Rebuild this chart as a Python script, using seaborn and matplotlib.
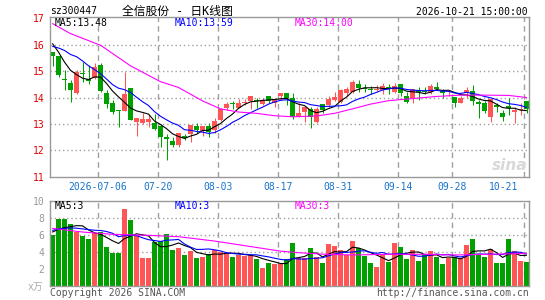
import matplotlib
matplotlib.use("Agg")
import matplotlib.pyplot as plt
import matplotlib.transforms as mtransforms
from matplotlib.lines import Line2D
import numpy as np
import pandas as pd
import seaborn as sns

# daily bars, oldest first
opens = [15.72, 15.56, 14.71, 14.55, 14.18, 14.93, 14.71, 14.74, 15.23, 14.18,
         13.78, 13.54, 13.48, 14.35, 13.07, 13.05, 13.07, 13.05, 12.91, 12.49,
         12.35, 12.20, 12.56, 12.62, 12.92, 12.74, 12.92, 12.77, 13.15, 13.59,
         13.78, 13.61, 13.80, 13.86, 13.90, 13.75, 14.05, 13.78, 14.05, 14.18,
         14.00, 13.27, 13.46, 13.55, 13.08, 13.75, 13.71, 13.90, 13.84, 14.16,
         14.19, 14.51, 14.36, 14.34, 14.28, 14.28, 14.38, 14.22, 14.51, 14.05,
         14.00, 14.28, 14.26, 14.22, 14.41, 14.26, 14.20, 14.03, 13.78, 14.16,
         14.26, 13.82, 13.78, 13.25, 13.71, 13.42, 13.67, 13.45, 13.52, 13.88]
closes = [15.57, 14.86, 14.67, 14.27, 14.97, 14.89, 14.61, 15.15, 14.25, 13.77,
          13.45, 13.50, 14.12, 13.16, 13.23, 13.17, 13.17, 12.81, 12.51, 12.44,
          12.20, 12.65, 12.45, 12.96, 12.77, 12.92, 12.70, 13.11, 13.56, 13.75,
          13.74, 13.80, 13.84, 14.05, 13.87, 13.90, 13.88, 13.92, 14.18, 13.97,
          13.25, 13.42, 13.65, 13.25, 13.55, 13.52, 13.94, 14.03, 14.28, 14.32,
          14.57, 14.36, 14.31, 14.28, 14.34, 14.43, 14.32, 14.43, 14.18, 13.84,
          14.31, 14.22, 14.19, 14.43, 14.34, 14.16, 14.26, 13.78, 14.00, 14.28,
          13.88, 13.77, 13.50, 13.93, 13.65, 13.25, 13.62, 13.52, 13.57, 13.55]
highs = [15.74, 15.56, 15.05, 14.65, 15.05, 15.34, 15.24, 15.31, 15.32, 14.27,
         13.90, 13.54, 14.98, 14.37, 13.24, 13.41, 13.39, 13.39, 13.01, 12.63,
         12.52, 12.65, 12.62, 12.96, 13.05, 12.92, 13.05, 13.21, 13.59, 13.84,
         13.88, 13.93, 13.94, 14.05, 14.00, 14.00, 14.05, 13.97, 14.18, 14.18,
         14.18, 13.78, 13.65, 13.65, 13.65, 13.75, 14.05, 14.22, 14.31, 14.41,
         14.66, 14.66, 14.51, 14.43, 14.47, 14.56, 14.51, 14.56, 14.51, 14.22,
         14.34, 14.41, 14.41, 14.51, 14.60, 14.31, 14.28, 14.03, 14.05, 14.41,
         14.47, 13.90, 13.88, 13.93, 13.80, 13.52, 14.00, 13.65, 13.80, 13.88]
lows = [15.19, 14.78, 14.30, 13.83, 14.15, 14.59, 14.52, 14.71, 14.21, 13.60,
        13.39, 12.88, 13.48, 13.14, 12.53, 13.00, 12.89, 12.78, 12.13, 11.65,
        12.11, 12.11, 12.39, 12.33, 12.67, 12.54, 12.52, 12.67, 13.11, 13.52,
        13.55, 13.59, 13.70, 13.57, 13.59, 13.71, 13.78, 13.65, 13.92, 13.72,
        13.17, 13.25, 13.08, 12.83, 13.02, 13.42, 13.65, 13.88, 13.78, 14.05,
        14.16, 14.22, 14.22, 14.15, 14.25, 14.15, 14.15, 14.18, 14.05, 13.78,
        13.80, 13.90, 14.15, 14.15, 14.28, 13.97, 14.05, 13.65, 13.78, 14.00,
        13.71, 13.21, 13.40, 13.08, 13.46, 13.12, 13.34, 13.05, 13.34, 13.40]
# volume in 万
volumes = [6.0, 7.9, 7.9, 7.3, 6.4, 5.9, 5.5, 6.2, 6.4, 4.6,
           3.9, 3.9, 9.1, 7.8, 6.0, 3.3, 3.3, 5.2, 5.3, 6.1,
           4.2, 4.5, 3.7, 4.1, 3.3, 3.4, 3.8, 4.2, 4.0, 3.9,
           3.4, 3.7, 3.5, 3.6, 3.2, 2.1, 2.7, 2.6, 2.6, 3.2,
           5.06, 3.25, 3.25, 4.47, 3.4, 2.7, 4.94, 4.7, 4.24, 3.65,
           5.3, 4.47, 3.53, 2.7, 2.24, 3.65, 2.82, 5.06, 4.6, 3.18,
           4.24, 2.94, 3.65, 4.1, 3.4, 2.6, 3.3, 3.4, 3.3, 4.8,
           5.5, 3.65, 3.4, 4.35, 2.7, 2.7, 5.5, 4.1, 2.94, 2.82]

# the nine sessions before the window, needed for MA5/MA10
prior_close = [15.50, 15.60, 15.80, 15.80, 16.50, 16.46, 16.57, 15.82, 15.78]
prior_volume = [6.60, 6.80, 6.90, 6.70, 6.75, 6.30, 6.95, 6.70, 5.80]

# MA30 at a few sessions
ma30_idx = [0, 3, 8, 13, 18, 21, 25, 28, 31, 34, 37, 40, 44, 47, 50, 53, 56, 60, 64, 68, 72, 76, 79]
ma30_price = [16.80, 16.42, 15.98, 15.20, 14.60, 14.38, 13.87, 13.57, 13.45, 13.40, 13.31, 13.27,
              13.30, 13.40, 13.57, 13.75, 13.88, 13.96, 14.04, 14.09, 14.09, 14.08, 14.00]
vma30_idx = [0, 5, 10, 16, 21, 27, 32, 38, 41, 45, 50, 56, 62, 67, 73, 79]
vma30 = [6.78, 6.35, 6.08, 5.96, 5.80, 5.29, 4.75, 4.10, 3.92, 3.75, 3.65, 3.73, 3.73, 3.65, 3.73, 3.84]

tick_idx = [8, 18, 28, 38, 48, 58, 67, 79]
tick_labels = ["2026-07-06", "07-20", "08-03", "08-17", "08-31", "09-14", "09-28", "10-21"]
price_ticks = [11, 12, 13, 14, 15, 16, 17]
vol_ticks = [2, 4, 6, 8, 10]

RED = "#ff5555"
GREEN = "#00a000"
GRID = "#a0a0a0"
FRAME = "#999999"

sns.set_style("white")
plt.rcParams["font.family"] = ["DejaVu Sans Mono", "Noto Sans CJK SC"]

n = len(closes)
df = pd.DataFrame({"x": np.arange(n), "open": opens, "close": closes,
                   "high": highs, "low": lows, "vol": volumes})
df["up"] = df["close"] >= df["open"]
k = len(prior_close)
c_all = pd.Series(prior_close + closes)
v_all = pd.Series(prior_volume + volumes)
df["ma5"] = c_all.rolling(5).mean().iloc[k:].values
df["ma10"] = c_all.rolling(10).mean().iloc[k:].values
df["vma5"] = v_all.rolling(5).mean().iloc[k:].values
df["vma10"] = v_all.rolling(10).mean().iloc[k:].values
colors = np.where(df["up"], RED, GREEN)

W, H = 545, 300
fig = plt.figure(figsize=(W / 100, H / 100), dpi=100)
ax = fig.add_axes([50 / W, 1 - 176.7 / H, 479.3 / W, 159.7 / H])
axv = fig.add_axes([50 / W, 1 - 286 / H, 479.3 / W, 85 / H])
xlim = (-0.42, -0.42 + 479.3 / 6)
grid_x = [i - 0.42 for i in tick_idx]
panels = ((ax, price_ticks[1:-1]), (axv, vol_ticks[1:-1]))

ax.set_xlim(*xlim)
ax.set_ylim(11, 17.05)
axv.set_xlim(*xlim)
axv.set_ylim(0, 10)

# candles
body_lo = np.minimum(df["open"], df["close"])
body_h = np.maximum((df["close"] - df["open"]).abs(), 0.04)
ax.vlines(df["x"], df["low"], df["high"], colors=colors, lw=0.75, zorder=3)
ax.bar(df["x"], body_h, bottom=body_lo, width=0.8, color=colors, lw=0, zorder=3)

sns.lineplot(x=df["x"], y=df["ma5"], color="black", lw=0.8, ax=ax, zorder=4)
sns.lineplot(x=df["x"], y=df["ma10"], color="#0000ff", lw=0.8, ax=ax, zorder=4)
sns.lineplot(x=ma30_idx, y=ma30_price, color="#ff00ff", lw=0.8, ax=ax, zorder=4)

# volume
sns.barplot(data=df, x="x", y="vol", hue="up", palette={True: RED, False: GREEN},
            native_scale=True, dodge=False, width=0.8, saturation=1, errorbar=None,
            legend=False, linewidth=0, ax=axv, zorder=3)
sns.lineplot(x=df["x"], y=df["vma5"], color="black", lw=0.8, ax=axv, zorder=4)
sns.lineplot(x=df["x"], y=df["vma10"], color="#0000ff", lw=0.8, ax=axv, zorder=4)
sns.lineplot(x=vma30_idx, y=vma30, color="#ff00ff", lw=0.8, ax=axv, zorder=4)

for a in (ax, axv):
    a.set_xlim(*xlim)
    a.set_xlabel("")
    a.set_ylabel("")
    a.set_xticks([])
    for s in a.spines.values():
        s.set_color(FRAME)
        s.set_linewidth(1)
        s.set_zorder(5)

ax.set_ylim(11, 17.05)
ax.set_yticks(price_ticks)
ax.tick_params(axis="y", length=0, pad=4, labelsize=7, labelcolor="#e00000")
axv.set_ylim(0, 10)
axv.set_yticks(vol_ticks)
axv.tick_params(axis="y", length=0, pad=4, labelsize=7, labelcolor="#999999")

# grid: dashed at the date ticks, dotted at the value ticks (under the marks)
for a, hl in panels:
    for gx in grid_x:
        a.axvline(gx, color=GRID, lw=1, ls=(0, (4, 3)), zorder=1)
    for h in hl:
        a.axhline(h, color=GRID, lw=1, ls=(0, (1, 2)), zorder=1)

# date labels under the price panel
for i, (gx, lab) in enumerate(zip(grid_x, tick_labels)):
    last = i == len(grid_x) - 1
    tr = mtransforms.offset_copy(ax.get_xaxis_transform(), fig=fig,
                                 x=-6 if last else 0, y=-10, units="dots")
    ax.text(gx, 0, lab, transform=tr, ha="right" if last else "center",
            va="center", fontsize=7, color="#1874cd")

# header
fig.text(50 / W, 1 - 11.5 / H, "sz300447", fontsize=7, va="center", color="black")
fig.text(122 / W, 1 - 11 / H, "全信股份 - 日K线图", fontsize=8.5, va="center",
         color="black")
fig.text(528 / W, 1 - 12 / H, "2026-10-21 15:00:00", fontsize=7, va="center",
         ha="right", color="black")

# MA legends
for xp, txt, col in [(55, "MA5:13.48", "black"), (175, "MA10:13.59", "#0000ff"),
                     (295, "MA30:14.00", "#ff00ff")]:
    fig.text(xp / W, 1 - 23.5 / H, txt, fontsize=7, va="center", color=col)
for xp, txt, col in [(55, "MA5:3", "black"), (175, "MA10:3", "#0000ff"),
                     (295, "MA30:3", "#ff00ff")]:
    fig.text(xp / W, 1 - 206 / H, txt, fontsize=7, va="center", color=col)

fig.text(28 / W, 1 - 287 / H, "x万", fontsize=7, va="center", color="#aaaaaa")
fig.text(50 / W, 1 - 292.5 / H, "Copyright 2026 SINA.COM", fontsize=7, va="center",
         color="#555555")
fig.text(529 / W, 1 - 293 / H, "http://finance.sina.com.cn", fontsize=7,
         va="center", ha="right", color="#555555")
fig.text(527 / W, 1 - 165 / H, "sina", fontsize=11, va="center", ha="right",
         style="italic", weight="bold", color="#d8d8d8", family="DejaVu Sans")

fig.savefig("out.png", dpi=100)

# check the empty strip under the first date line; if the grid did not come
# through inside the axes, lay it on the figure instead
img = plt.imread("out.png")
if img[152:172, 95:101, :3].min() > 0.85:
    for a, hl in panels:
        for gx in grid_x:
            fig.add_artist(Line2D([gx, gx], [0, 1], transform=a.get_xaxis_transform(),
                                  color=GRID, lw=1, ls=(0, (4, 3)), zorder=1))
        for h in hl:
            fig.add_artist(Line2D([0, 1], [h, h], transform=a.get_yaxis_transform(),
                                  color=GRID, lw=1, ls=(0, (1, 2)), zorder=1))
    fig.savefig("out.png", dpi=100)
